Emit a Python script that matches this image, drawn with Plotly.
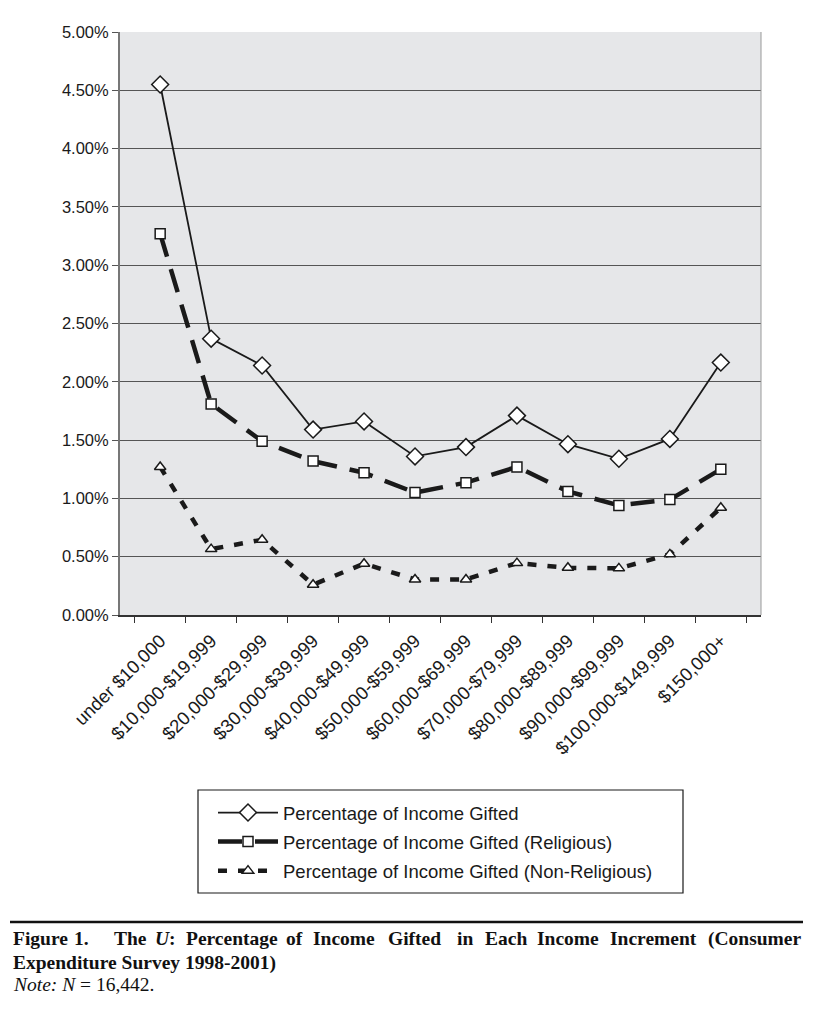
import plotly.graph_objects as go

categories = ["under $10,000", "$10,000-$19,999", "$20,000-$29,999", "$30,000-$39,999",
              "$40,000-$49,999", "$50,000-$59,999", "$60,000-$69,999", "$70,000-$79,999",
              "$80,000-$89,999", "$90,000-$99,999", "$100,000-$149,999", "$150,000+"]
total = [4.55, 2.37, 2.14, 1.59, 1.66, 1.36, 1.44, 1.71, 1.465, 1.34, 1.51, 2.165]
religious = [3.27, 1.81, 1.49, 1.32, 1.22, 1.05, 1.135, 1.27, 1.06, 0.94, 0.99, 1.25]
nonreligious = [1.27, 0.565, 0.645, 0.26, 0.44, 0.305, 0.305, 0.445, 0.405, 0.40, 0.52, 0.92]
names = ["Percentage of Income Gifted", "Percentage of Income Gifted (Religious)",
         "Percentage of Income Gifted (Non-Religious)"]
y_ticks = [0, 0.5, 1, 1.5, 2, 2.5, 3, 3.5, 4, 4.5, 5]

caption_words = ["Figure", "1.", "The", "<i>U</i>:", "Percentage", "of", "Income", "Gifted",
                 "in", "Each", "Income", "Increment", "(Consumer"]
caption_word_x = [12, 73, 113, 154, 185, 285, 312, 387, 456, 484, 536, 609, 707]
caption_line2 = "Expenditure Survey 1998-2001)"
note_text = "<i>Note:</i> <i>N</i> = 16,442."

# page coordinate helpers (page has an 8px body margin)
W, H = 820, 1008
ML, MR, MT, MB = 112, 67, 24, 401
PW, PH = W - ML - MR, H - MT - MB


def px(ax):
    return (ax - 8 - ML) / PW


def py(ay):
    return (H - MB - (ay - 8)) / PH


fig = go.Figure()
fig.add_trace(go.Scatter(
    x=categories, y=total, name=names[0], mode="lines+markers", legendgroup="a",
    line=dict(color="#1a1a1a", width=1.8),
    marker=dict(symbol="diamond", size=13, color="white", line=dict(color="#1a1a1a", width=1.5))))
fig.add_trace(go.Scatter(
    x=categories, y=religious, name=names[1], mode="lines+markers", legendgroup="b",
    line=dict(color="#1a1a1a", width=4.5, dash="24px,13px"),
    marker=dict(symbol="square", size=10, color="white", line=dict(color="#1a1a1a", width=1.5))))
fig.add_trace(go.Scatter(
    x=categories, y=nonreligious, name=names[2], mode="lines+markers", legendgroup="c",
    line=dict(color="#1a1a1a", width=4.5, dash="9px,11px"),
    marker=dict(symbol="triangle-up", size=10, color="white", line=dict(color="#1a1a1a", width=1.5))))

fig.update_layout(
    width=W, height=H,
    margin=dict(l=ML, r=MR, t=MT, b=MB),
    paper_bgcolor="white", plot_bgcolor="#e6e7e9",
    font=dict(family="Liberation Sans, Arial, sans-serif", color="#1a1a1a", size=16),
    showlegend=True,
    legend=dict(
        x=px(213), y=py(794), xanchor="left", yanchor="top",
        borderwidth=0, bgcolor="rgba(0,0,0,0)",
        font=dict(size=18.5), itemwidth=60, tracegroupgap=2,
        traceorder="grouped",
    ),
)
fig.update_xaxes(
    type="category", tickangle=-45, tickson="boundaries", ticks="outside", ticklen=6,
    tickcolor="#333", showline=True, linecolor="#333", linewidth=1.5, showgrid=False,
    automargin=False, tickfont=dict(size=18.5), ticklabelstandoff=6,
)
fig.update_yaxes(
    range=[0, 5], tickvals=y_ticks, ticktext=[f"{v:.2f}%" for v in y_ticks],
    ticks="outside", ticklen=6, tickcolor="#555", showline=True, linecolor="#777",
    linewidth=2, gridcolor="#555", gridwidth=1, zeroline=False, automargin=False,
    tickfont=dict(size=16.5),
)

# right border of plot area
fig.add_shape(type="line", xref="paper", yref="paper", x0=1, x1=1, y0=0, y1=1,
              line=dict(color="#999", width=1))

# legend box
fig.add_shape(type="rect", xref="paper", yref="paper",
              x0=px(198), x1=px(683), y0=py(790), y1=py(893),
              line=dict(color="#1a1a1a", width=1.2), fillcolor="rgba(0,0,0,0)")

# caption rule and text
fig.add_shape(type="line", xref="paper", yref="paper",
              x0=px(10), x1=px(803), y0=py(922), y1=py(922),
              line=dict(color="#111", width=2.5))
serif = "Liberation Serif, Times New Roman, serif"
for word, wx in zip(caption_words, caption_word_x):
    fig.add_annotation(
        xref="paper", yref="paper", x=px(wx - 1), y=py(926),
        xanchor="left", yanchor="top", showarrow=False,
        font=dict(family=serif, size=19.5, color="#111"),
        text=f"<b>{word}</b>",
    )
fig.add_annotation(
    xref="paper", yref="paper", x=px(11), y=py(950),
    xanchor="left", yanchor="top", showarrow=False,
    font=dict(family=serif, size=19.5, color="#111"),
    text=f"<b>{caption_line2}</b>",
)
fig.add_annotation(
    xref="paper", yref="paper", x=px(11), y=py(972),
    xanchor="left", yanchor="top", showarrow=False,
    font=dict(family=serif, size=19.5, color="#111"),
    text=note_text,
)

fig.write_html("out.html")
